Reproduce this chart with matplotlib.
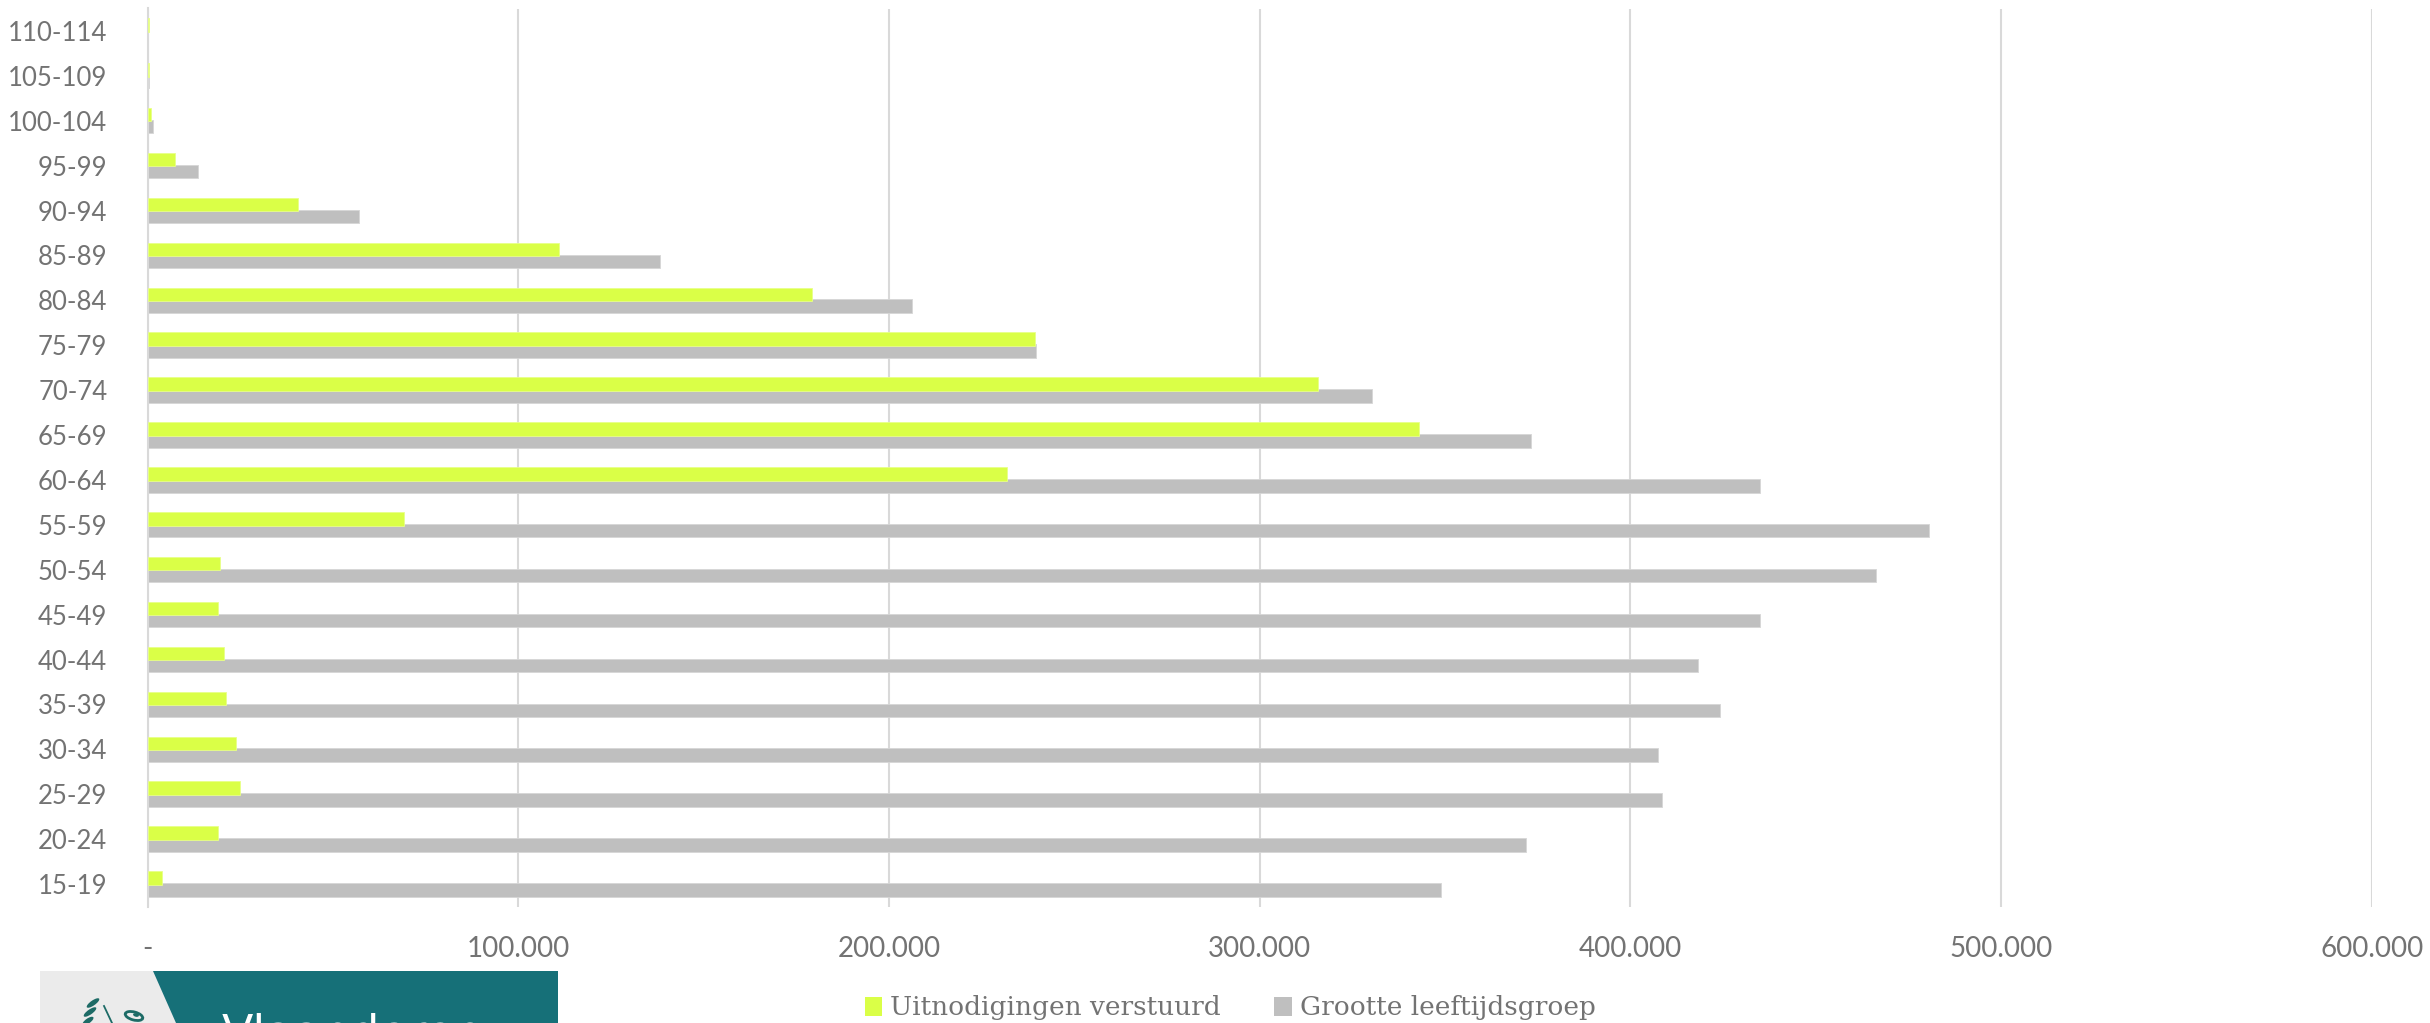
import matplotlib
matplotlib.use("Agg")
import matplotlib.pyplot as plt
from matplotlib.patches import Patch, Polygon, Rectangle, Ellipse
import numpy as np

# ---- data (bottom to top) ----
categories = ["15-19", "20-24", "25-29", "30-34", "35-39", "40-44", "45-49",
              "50-54", "55-59", "60-64", "65-69", "70-74", "75-79", "80-84",
              "85-89", "90-94", "95-99", "100-104", "105-109", "110-114"]
uitnodigingen = [3900, 19000, 24850, 23770, 21070, 20520, 18900,
                 19530, 69080, 231800, 342900, 315650, 239300, 179300,
                 111060, 40500, 7500, 900, 400, 400]
grootte = [349020, 371920, 408620, 407490, 424230, 418180, 434930,
           466150, 480640, 435000, 373200, 330200, 239570, 206300,
           138300, 57100, 13700, 1400, 300, 200]
series_names = ["Uitnodigingen verstuurd", "Grootte leeftijdsgroep"]
xticks = [0, 100000, 200000, 300000, 400000, 500000, 600000]
xticklabels = ["-", "100.000", "200.000", "300.000", "400.000", "500.000", "600.000"]

YELLOW = "#daff47"
GRAY = "#bfbfbf"
TXT = "#737373"
GRID = "#d9d9d9"

W, H = 2430, 1023
fig = plt.figure(figsize=(W / 100, H / 100), dpi=100)
ax = fig.add_axes([147.6 / W, 1 - 906.5 / H, (2371.8 - 147.6) / W, (906.5 - 8.5) / H])

y = np.arange(len(categories))
bh = 0.30
ax.barh(y - 0.13, grootte, height=bh, color=GRAY, edgecolor="#d6d6d6", linewidth=0.6, zorder=2)
ax.barh(y + 0.135, uitnodigingen, height=bh, color=YELLOW, edgecolor="#e8ff8a", linewidth=0.6, zorder=3)

ax.set_xlim(0, 600000)
ax.set_ylim(-0.5, len(categories) - 0.5)
ax.set_xticks(xticks)
ax.set_xticklabels(xticklabels)
ax.set_yticks(y)
ax.set_yticklabels(categories)
for s in ["top", "right", "bottom"]:
    ax.spines[s].set_visible(False)
ax.spines["left"].set_color(GRID)
ax.spines["left"].set_linewidth(1.5)
ax.xaxis.grid(True, color=GRID, linewidth=1.5, zorder=0)
ax.set_axisbelow(True)
ax.tick_params(axis="both", length=0, labelcolor=TXT)
ax.tick_params(axis="x", pad=21, labelsize=20)
ax.tick_params(axis="y", pad=29, labelsize=18.5)
for lab in ax.get_xticklabels() + ax.get_yticklabels():
    lab.set_family(["Lato", "DejaVu Sans"])
    lab.set_fontweight("normal")

# ---- legend ----
handles = [Patch(facecolor=YELLOW, edgecolor="none"), Patch(facecolor=GRAY, edgecolor="none")]
fig.legend(handles, series_names, loc="center", bbox_to_anchor=(1230 / W, 1 - 1008 / H),
           ncol=2, frameon=False, handlelength=0.68, handleheight=0.75, handletextpad=0.3,
           columnspacing=2.0, prop={"family": ["DejaVu Serif"], "size": 19}, labelcolor=TXT)

# ---- logo (cut off at bottom) ----
lax = fig.add_axes([40 / W, 0, 518 / W, 52 / H])
lax.set_xlim(0, 518)
lax.set_ylim(0, 52)
lax.axis("off")
TEAL = "#167078"
ICON = "#1d6b66"
lax.add_patch(Rectangle((0, 0), 518, 52, facecolor="#ebebeb", edgecolor="none"))
lax.add_patch(Polygon([(113, 52), (518, 52), (518, 0), (136, 0)], closed=True,
                      facecolor=TEAL, edgecolor="none"))
for cx, cy, w, h, a in [(53, 20, 5, 15, -55), (50, 11, 5, 15, -55), (48, 2, 5, 13, -55)]:
    lax.add_patch(Ellipse((cx, cy), w, h, angle=a, facecolor=ICON, edgecolor="none"))
lax.plot([64, 72], [17, 0], color=ICON, linewidth=1.3)
lax.add_patch(Ellipse((94, 7), 18, 8, angle=-15, facecolor="none", edgecolor=ICON, linewidth=2))
lax.add_patch(Ellipse((96, 8), 6, 3.5, angle=-15, facecolor=ICON, edgecolor="none"))
lax.text(182, -24, "Vlaanderen", color="white", fontsize=33, fontweight="medium",
         family=["DejaVu Sans"], va="baseline", ha="left", clip_on=True)

fig.savefig("out.png", dpi=100)
